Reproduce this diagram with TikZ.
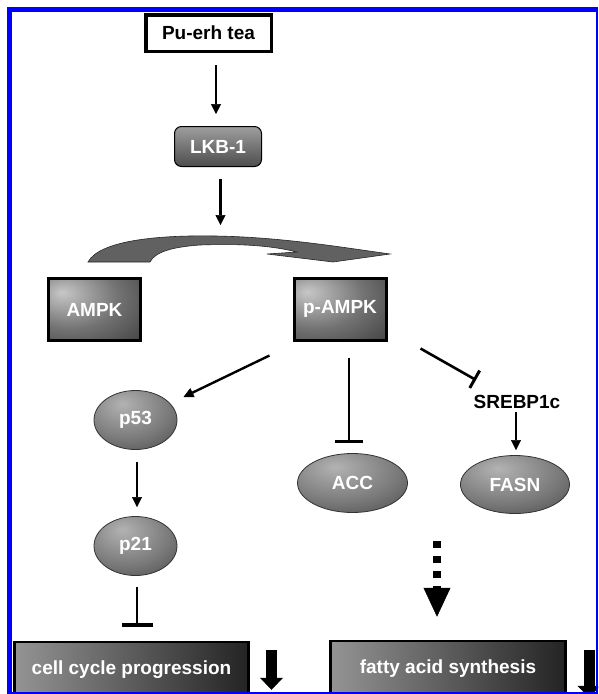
\documentclass[tikz,border=0pt]{standalone}
\usepackage{fontspec}
\setmainfont{Liberation Sans}
\usetikzlibrary{arrows.meta,shapes.geometric,calc}
\pgfdeclareradialshading{boxshade}{\pgfpoint{-18bp}{14bp}}{color(0bp)=(black!22); color(26bp)=(black!55); color(58bp)=(black!82); color(100bp)=(black!84)}
\pgfdeclareradialshading{ellshade}{\pgfpoint{-8bp}{14bp}}{color(0bp)=(black!30); color(26bp)=(black!52); color(55bp)=(black!80); color(100bp)=(black!80)}
\begin{document}
\begin{tikzpicture}[x=1pt,y=-1pt,
  lbl/.style={font=\fontsize{19}{22}\selectfont\bfseries},
  arr/.style={line width=2.4pt,-{Triangle[length=10pt,width=10pt,line width=0.5pt]}},
  inh/.style={line width=2.6pt,-{Bar[width=#1,line width=3.5pt]}},
  sqbox/.style={lbl,text=white,draw=black,line width=3pt,shade,shading=boxshade,minimum width=92pt,minimum height=62pt,inner sep=0pt},
  ell/.style={lbl,text=white,ellipse,draw=black!80,line width=0.8pt,shade,shading=ellshade,inner sep=0pt},
  bigbox/.style={lbl,text=white,draw=black,line width=2.5pt,left color=black!42,right color=black!86,minimum height=56pt,inner sep=0pt},
  blockdown/.style={line width=11pt,-{Triangle[length=12pt,width=23pt,line width=0.5pt]}}
]
\useasboundingbox (0,0) rectangle (598,694);
\fill[white] (0,0) rectangle (598,694);
\begin{scope}
\clip (0,0) rectangle (598,694);
% nodes
\node[draw=black,line width=3.5pt,fill=white,lbl,minimum width=125.5pt,minimum height=36.5pt,inner sep=0pt] (pu) at (208.5,33) {Pu-erh tea};
\node[lbl,text=white,draw=black,line width=1pt,rounded corners=7pt,top color=black!38,bottom color=black!70,minimum width=87pt,minimum height=40pt,inner sep=0pt] (lkb) at (218,146.5) {LKB-1};
\node[sqbox] (ampk) at (94.5,309.5) {AMPK};
\node[sqbox] (pampk) at (340,309) {p-AMPK};
\node[ell,minimum width=83pt,minimum height=59pt] (p53) at (135.5,420) {p53};
\node[ell,minimum width=83pt,minimum height=59pt] (p21) at (135.5,546) {p21};
\node[ell,minimum width=110pt,minimum height=59pt] (acc) at (352.5,483) {ACC};
\node[ell,minimum width=109pt,minimum height=58pt] (fasn) at (515,484.5) {FASN};
\node[lbl] (srebp) at (517,402) {SREBP1c};
\node[bigbox,minimum width=234pt] (cell) at (131.5,670) {cell cycle progression};
\node[bigbox,minimum width=235pt] (fatty) at (448,669) {fatty acid synthesis};
% curved block arrow
\coordinate (archtop) at (220.5,236);
\filldraw[fill=black!62,draw=black!85,line width=0.6pt]
  (88,262) .. controls (100,240) and (160,235) .. (215,236)
  .. controls (280,237) and (340,247) .. (390,254)
  -- (333,262) -- (267,254) -- (297,252)
  .. controls (265,244) and (230,244) .. (200,245)
  .. controls (172,247) and (155,252) .. (150,262) -- cycle;
% connectors
\draw[arr] ($(pu.south)+(7.5,12)$) -- ($(lkb.north)+(-2,-12)$);
\draw[arr,shorten >=11pt] ($(lkb.south)+(2.5,12)$) -- (archtop);
\draw[arr] ($(pampk.south west)+(-23,14)$) -- ($(p53.center)+(48,-23)$);
\draw[inh=28pt] ($(pampk.south)+(9,16)$) -- ($(acc.north)+(-3.5,-10)$);
\draw[line width=2.6pt,-{Bar[width=20pt,line width=3pt]}] ($(pampk.south east)+(33,7)$) -- ($(srebp.center)+(-41,-22)$);
\draw[arr] ($(fasn.north)+(1,-43)$) -- ($(fasn.north)+(1,-5)$);
\draw[arr] ($(p53.south)+(1.5,12)$) -- ($(p21.north)+(1.5,-9)$);
\draw[inh=31pt] ($(p21.south)+(1.5,11)$) -- ($(cell.north)+(5.5,-14)$);
\coordinate (dstart) at (437,541);
\draw[line width=8pt,dash pattern=on 7pt off 8pt,-{Triangle[length=29pt,width=27pt,line width=0.5pt]}] (dstart) -- ($(fatty.north)+(-11,-23)$);
% down block arrows
\draw[blockdown] ($(cell.north east)+(21.75,9)$) -- ++(0,40);
\draw[blockdown] ($(fatty.north east)+(22.25,10)$) -- ++(0,48);
% blue frame
\fill[blue] (7,7) rectangle (12,694);
\fill[blue] (7,7) rectangle (598,12);
\fill[blue] (596,7) rectangle (598,694);
\fill[blue] (7,692) rectangle (598,694);
\end{scope}
\end{tikzpicture}
\end{document}
